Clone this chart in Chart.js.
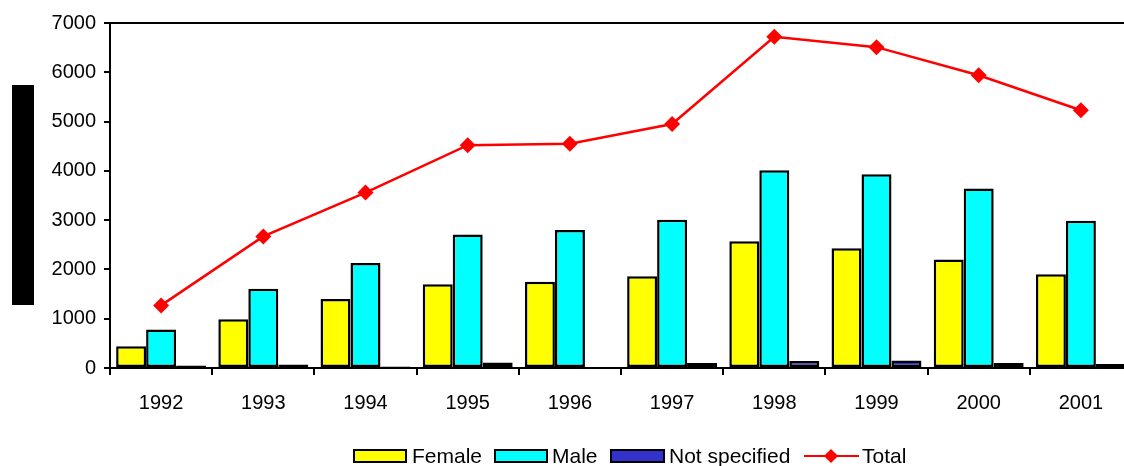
<!DOCTYPE html>
<html>
<head>
<meta charset="utf-8">
<script src="https://cdn.jsdelivr.net/npm/chart.js@4/dist/chart.umd.min.js"></script>
<style>
    body { margin: 0; background: #fff; overflow: hidden; font-family: "Liberation Sans", Arial, sans-serif; }
    #wrap { position: relative; width: 1124px; height: 466px; overflow: hidden; }
    #chart { position: absolute; left: 0; top: 0; }
    #ytitle { position: absolute; left: 12px; top: 85px; width: 22px; height: 220px; background: #000; }
    #legend span { position: absolute; }
    #legend .box { top: 449px; height: 10px; border: 2px solid #000; }
    #legend .txt { top: 444px; font-size: 21px; line-height: 24px; color: #000; white-space: nowrap; }
    #legend .line { top: 455px; height: 2px; background: #ff0000; }
    #legend .dia { top: 451px; width: 10px; height: 10px; background: #ff0000; transform: rotate(45deg); }
</style>
</head>
<body>
<div id="wrap">
    <canvas id="chart" width="1140" height="466"></canvas>
    <div id="ytitle"></div>
    <div id="legend">
        <span class="box" style="left:353px; width:50px; background:#ffff00"></span>
        <span class="txt" style="left:412px">Female</span>
        <span class="box" style="left:494px; width:50px; background:#00ffff"></span>
        <span class="txt" style="left:552px">Male</span>
        <span class="box" style="left:610px; width:51px; background:#3333cc"></span>
        <span class="txt" style="left:669px">Not specified</span>
        <span class="line" style="left:804px; width:55px"></span>
        <span class="dia" style="left:826px"></span>
        <span class="txt" style="left:862px">Total</span>
    </div>
</div>
<script>
const years = ["1992", "1993", "1994", "1995", "1996", "1997", "1998", "1999", "2000", "2001"];
const female = [440, 990, 1400, 1700, 1750, 1860, 2570, 2430, 2200, 1900];
const male = [780, 1610, 2130, 2710, 2800, 3010, 4010, 3930, 3640, 2990];
const notSpecified = [50, 70, 30, 110, 10, 100, 140, 150, 100, 80];
const total = [1270, 2670, 3560, 4520, 4550, 4950, 6720, 6510, 5940, 5230];
const yTicks = [0, 1000, 2000, 3000, 4000, 5000, 6000, 7000];

// top frame line of the plot area
const topLine = {
    id: "topLine",
    afterDraw(chart) {
        const { ctx, chartArea } = chart;
        ctx.save();
        ctx.strokeStyle = "#000";
        ctx.lineWidth = 2;
        ctx.beginPath();
        ctx.moveTo(chartArea.left, chartArea.top);
        ctx.lineTo(chartArea.right, chartArea.top);
        ctx.stroke();
        ctx.restore();
    },
};

const barStyle = {
    borderColor: "#000",
    borderWidth: 2.5,
    borderSkipped: false,
    categoryPercentage: 0.88,
    barPercentage: 1.0,
    order: 1,
};

new Chart(document.getElementById("chart"), {
    type: "bar",
    data: {
        labels: years,
        datasets: [
            { type: "line", label: "Total", data: total, borderColor: "#ff0000", backgroundColor: "#ff0000",
              borderWidth: 2.5, pointStyle: "rectRot", pointRadius: 8, pointBorderWidth: 0, tension: 0, order: 0 },
            { label: "Female", data: female, backgroundColor: "#ffff00", ...barStyle },
            { label: "Male", data: male, backgroundColor: "#00ffff", ...barStyle },
            { label: "Not specified", data: notSpecified, backgroundColor: "#3333cc", ...barStyle },
        ],
    },
    options: {
        responsive: false,
        animation: false,
        layout: { padding: { left: 0, top: 23, right: 7, bottom: 0 } },
        plugins: { legend: { display: false }, tooltip: { enabled: false } },
        scales: {
            x: {
                offset: true,
                grid: { offset: true, drawOnChartArea: false, drawTicks: true, tickLength: 7, color: "#000", lineWidth: 2 },
                border: { color: "#000", width: 2 },
                ticks: { color: "#000", padding: 16, font: { family: "'Liberation Sans', Arial", size: 20 } },
                afterFit: (scale) => { scale.height = 98; },
            },
            y: {
                min: 0,
                max: 7000,
                afterBuildTicks: (scale) => { scale.ticks = yTicks.map((v) => ({ value: v })); },
                grid: { drawOnChartArea: false, drawTicks: true, tickLength: 6, color: "#000", lineWidth: 2 },
                border: { color: "#000", width: 2 },
                ticks: {
                    color: "#000",
                    padding: 8,
                    font: { family: "'Liberation Sans', Arial", size: 20 },
                    callback: (v) => String(v),
                },
                afterFit: (scale) => { scale.width = 110; },
            },
        },
    },
    plugins: [topLine],
});
</script>
</body>
</html>
